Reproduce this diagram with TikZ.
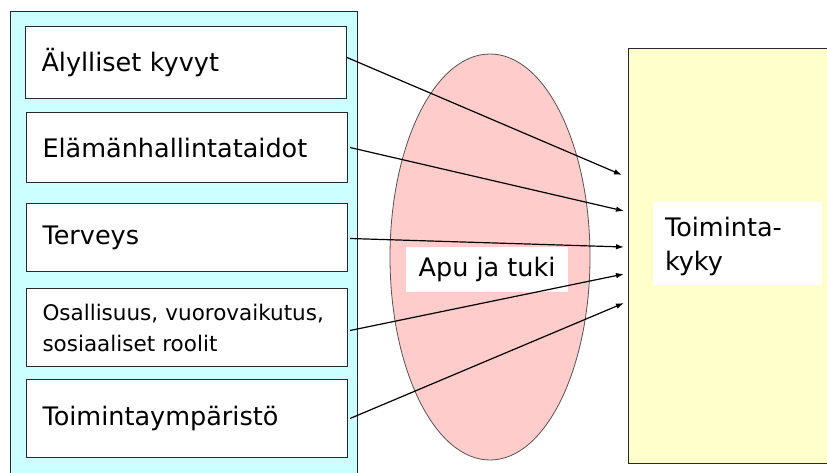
\documentclass[tikz,border=0pt]{standalone}
\usepackage{fontspec}
\setmainfont{DejaVu Sans}
\usetikzlibrary{arrows.meta}
\definecolor{panelcyan}{RGB}{204,255,255}
\definecolor{panelyellow}{RGB}{255,255,204}
\definecolor{pinkfill}{RGB}{255,204,204}
\definecolor{edge}{RGB}{40,40,40}
\tikzset{
  itembox/.style={draw=edge, line width=1pt, fill=white, minimum width=321pt, minimum height=#1,
    text width=289pt, inner xsep=16pt, inner ysep=0pt, align=left, anchor=north west,
    font=\fontsize{25.5pt}{30pt}\selectfont},
  itembox/.default=72pt,
  link/.style={line width=1.2pt, -{Latex[length=8pt,width=5.5pt]}},
  label/.style={fill=white, inner sep=0pt, font=\fontsize{25.5pt}{30pt}\selectfont}
}
\begin{document}
\begin{tikzpicture}[x=1pt,y=-1pt]
\useasboundingbox (0,0) rectangle (827,473);
% left panel
\draw[draw=edge, line width=1pt, fill=panelcyan] (10,12) rectangle (357,490);
\node[itembox] (b1) at (25,26) {Älylliset kyvyt};
\node[itembox=70pt] (b2) at (26,112) {Elämänhallintataidot};
\node[itembox=68pt] (b3) at (26,203) {Terveys};
\node[itembox=78pt, font=\fontsize{21.5pt}{31pt}\selectfont] (b4) at (26,288) {Osallisuus, vuorovaikutus,\\sosiaaliset roolit};
\node[itembox=78pt] (b5) at (26,379) {Toimintaympäristö};
% ellipse
\draw[draw=edge!80, line width=0.8pt, fill=pinkfill] (490,257) ellipse [x radius=100, y radius=203];
\node[label, minimum width=162pt, minimum height=45pt] (apu) at (487,269.5) {Apu ja tuki};
% right box
\draw[draw=edge, line width=1pt, fill=panelyellow] (628,49) rectangle (840,463);
\node[label, minimum width=169pt, minimum height=82pt, text width=145pt, inner xsep=12pt, align=left,
  font=\fontsize{25.5pt}{34pt}\selectfont] (tk) at (737.5,243.5) {\rule{0pt}{25pt}Toiminta-\\kyky};
% arrow targets
\coordinate (t1) at (622,175);
\coordinate (t2) at (624,211);
\coordinate (t3) at (624,247);
\coordinate (t4) at (624,274);
\coordinate (t5) at (624,303);
\draw[link] ([yshift=5pt]b1.east) -- (t1);
\draw[link] ([xshift=2pt]b2.east) -- (t2);
\draw[link] ([xshift=2pt,yshift=-1pt]b3.east) -- (t3);
\draw[link] ([xshift=2pt,yshift=-3pt]b4.east) -- (t4);
\draw[link] ([xshift=2pt]b5.east) -- (t5);
\end{tikzpicture}
\end{document}
